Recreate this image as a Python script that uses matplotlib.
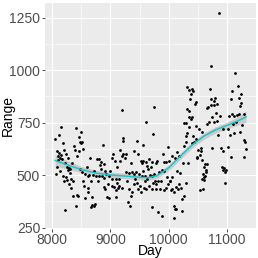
import matplotlib
matplotlib.use('Agg')
import matplotlib.pyplot as plt
import numpy as np

# points (Day, Range)
day = [8149, 8109, 8052, 8178, 8408, 8494, 8454, 8477, 8506, 8489, 8385, 8454, 8523, 8086, 8121,
       8149, 8167, 8126, 8092, 8644, 8770, 8810, 8868, 8845, 8885, 8828, 9029, 9075, 8224, 8253,
       8281, 8264, 8310, 8477, 8512, 8569, 8609, 8638, 8696, 8753, 8799, 8857, 8891, 8931, 8972,
       9029, 9087, 8063, 8178, 8236, 8253, 8316, 8351, 8293, 8327, 8351, 8425, 8443, 8212, 8408,
       8552, 8615, 8615, 8557, 8684, 8684, 8741, 8718, 8661, 8891, 8914, 8949, 8972, 9029, 9064,
       9087, 9098, 9201,
       9747, 9604, 9730, 9212, 9212, 9460, 9558, 9172, 9212, 9259, 9190, 9247, 9172, 9402, 9517,
       9558, 9535, 9604, 9661, 9707, 9632, 9690, 9805, 9788, 9989, 9920, 9960, 10006, 10064, 10110,
       10150, 10179, 9259, 9316, 9374, 9402, 9443, 9489, 9535, 9592, 9632, 9673, 9719, 9747, 9834,
       9880, 9920,
       9115, 9155, 9132, 9190, 9316, 9362, 9345, 9305, 9328, 9402, 9460, 9500, 9477, 9517, 9575,
       9615, 9661, 9707, 9730, 9776, 9822, 9788, 9845, 9707, 9822, 9891, 9920, 9949, 9995, 10018,
       10052, 9977, 10035, 10064, 10092, 10121, 10156, 10179, 10207, 10236, 10265, 10294, 10092, 10110, 10133,
       10092, 10236, 10265, 10294, 10265,
       10868, 10736, 11144, 11184, 11087, 11242, 11202, 11069, 10322, 10408, 10420, 10351, 10379, 10362, 10466,
       10454, 10707, 10724, 10799, 10782, 10839, 10782, 10724, 10684, 10667, 10322, 10351, 10811, 11242, 11224,
       10753, 11040, 11087, 11127, 11167, 11213, 11299, 10351, 10397,
       10379, 10466, 10523, 10581, 10667, 10696, 10782, 10839, 10926, 11012, 11098, 11155, 11224, 11299, 11316,
       11328, 11299, 10293, 10408, 10437, 10511, 10552, 10535, 10494, 10569, 10626, 10667, 10638, 10609, 10581,
       10741, 10897, 10926, 11012, 11069, 10914, 10954, 10937, 10983, 10971, 10971, 10293, 10351, 10322, 10420,
       10466, 10604, 10644, 10587, 10621, 10604, 10587, 10546,
       8075, 8100, 8140, 8195, 8210, 8240, 8275, 8300, 8340, 8365, 8420, 8530, 8590, 8660, 8720,
       8780, 8830, 8900, 8960, 9000, 9050, 9110, 9150, 9280, 9350, 9420, 9470, 9560, 9600, 9650,
       9760, 9860, 9900, 10030, 10140, 10200, 10250, 10330, 10480, 10560, 10850, 10880, 11050, 11120, 11260]
rng = [732, 692, 671, 655, 727, 706, 682, 659, 656, 651, 619, 617, 624, 616, 608,
       598, 576, 584, 573, 584, 579, 579, 643, 563, 552, 548, 584, 568, 557, 541,
       535, 525, 529, 529, 513, 505, 497, 500, 500, 494, 494, 494, 487, 505, 494,
       484, 484, 505, 497, 489, 476, 481, 471, 456, 437, 402, 405, 402, 335, 354,
       449, 440, 418, 392, 398, 357, 362, 351, 346, 446, 433, 398, 392, 449, 446,
       430, 397, 811,
       827, 754, 695, 675, 664, 664, 643, 621, 600, 600, 592, 584, 568, 616, 568,
       568, 560, 563, 576, 563, 544, 537, 568, 557, 636, 563, 563, 568, 592, 584,
       611, 592, 516, 510, 516, 505, 516, 505, 494, 497, 484, 500, 497, 505, 513,
       525, 521,
       462, 449, 437, 441, 433, 418, 399, 370, 351, 457, 465, 449, 433, 418, 437,
       433, 449, 433, 465, 457, 473, 433, 433, 346, 325, 306, 430, 437, 457, 473,
       489, 489, 430, 433, 418, 446, 433, 457, 441, 386, 402, 465, 354, 341, 338,
       294, 330, 751, 687, 640,
       1275, 1021, 986, 925, 902, 889, 870, 862, 922, 913, 902, 906, 886, 865, 849,
       838, 910, 862, 867, 854, 838, 833, 833, 827, 822, 814, 806, 798, 846, 830,
       775, 783, 790, 783, 786, 790, 790, 779, 775,
       768, 736, 720, 705, 744, 752, 752, 760, 720, 720, 744, 752, 705, 668, 657,
       625, 586, 657, 652, 657, 620, 617, 598, 589, 573, 551, 554, 514, 490, 482,
       630, 630, 617, 633, 586, 538, 535, 525, 525, 514, 462, 747, 728, 700, 689,
       673, 538, 525, 506, 498, 475, 435, 427,
       540, 590, 520, 620, 470, 600, 580, 510, 560, 640, 590, 470, 540, 470, 520,
       470, 530, 520, 460, 520, 600, 540, 480, 470, 560, 480, 600, 520, 470, 530,
       470, 470, 600, 470, 520, 510, 560, 560, 580, 630, 690, 780, 690, 700, 740]

# loess curve and its band
smooth_day = [8050, 8250, 8500, 8750, 9000, 9250, 9500, 9650, 9800, 10000,
              10200, 10400, 10600, 10800, 11000, 11200, 11330]
smooth_fit = [570, 550, 527, 510, 501, 496, 490, 488, 497, 535,
              590, 643, 685, 715, 737, 760, 778]
smooth_se = [28, 20, 15, 13, 13, 13, 13, 13, 13, 14,
             15, 15, 15, 15, 16, 20, 28]

x_ticks = [8000, 9000, 10000, 11000]
y_ticks = [250, 500, 750, 1000, 1250]

plt.rcParams['font.family'] = ['Liberation Sans', 'DejaVu Sans']

fig = plt.figure(figsize=(2.58, 2.58), dpi=100)
ax = fig.add_axes([0.1744, 0.112, 0.8176, 0.8775])
ax.set_facecolor('#EBEBEB')

sx = np.array(smooth_day)
sf = np.array(smooth_fit)
se = np.array(smooth_se)
ax.fill_between(sx, sf - se, sf + se, color='#999999', alpha=0.4, lw=0, zorder=2)
ax.scatter(day, rng, s=4, color='black', lw=0, zorder=3)
ax.plot(sx, sf, color='#1FC3C8', lw=1.1, zorder=4)

ax.set_xlim(7875, 11495)
ax.set_ylim(243, 1322)
ax.set_xticks(x_ticks)
ax.set_yticks(y_ticks)
ax.set_xticks([8500, 9500, 10500, 11500], minor=True)
ax.set_yticks([375, 625, 875, 1125], minor=True)
ax.grid(which='major', color='white', lw=0.8)
ax.grid(which='minor', color='white', lw=0.4)
ax.set_axisbelow(True)
for s in ax.spines.values():
    s.set_visible(False)

ax.tick_params(which='major', length=2.5, width=0.6, color='#333333',
               labelsize=10, labelcolor='#4D4D4D', pad=1)
ax.tick_params(axis='x', pad=0)
ax.tick_params(which='minor', length=0)

ax.set_xlabel('Day', fontsize=10)
ax.xaxis.set_label_coords(0.5, -0.068)
ax.set_ylabel('Range', fontsize=10)
ax.yaxis.set_label_coords(-0.145, 0.5)

fig.savefig('out.png', dpi=100)
